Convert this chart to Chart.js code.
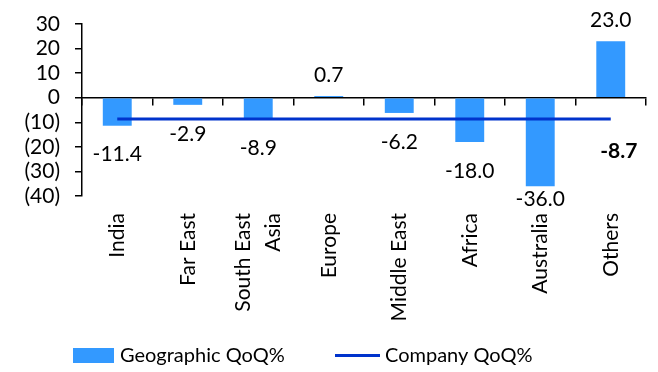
<!DOCTYPE html>
<html>
<head>
<meta charset="utf-8">
<script src="https://cdn.jsdelivr.net/npm/chart.js@4/dist/chart.umd.min.js"></script>
<style>
  html, body { margin: 0; padding: 0; background: #fff; }
  #wrap { width: 658px; height: 372px; }
</style>
</head>
<body>
<div id="wrap"><canvas id="c"></canvas></div>
<script>
// Regional revenue growth, quarter on quarter (%)
const categories = ['India', 'Far East', ['South East', 'Asia'], 'Europe', 'Middle East', 'Africa', 'Australia', 'Others'];
const geographicQoQ = [-11.4, -2.9, -8.9, 0.7, -6.2, -18.0, -36.0, 23.0];
const companyQoQ = [-8.7, -8.7, -8.7, -8.7, -8.7, -8.7, -8.7, -8.7];
const yTicks = [30, 20, 10, 0, -10, -20, -30, -40];

const BAR_COLOR = '#3399FF';
const LINE_COLOR = '#0033CC';
const FONT = "Lato, 'Open Sans', sans-serif";
const PAD = { left: 0, top: 24, right: 12, bottom: 0 };
const PLOT_BOTTOM = 196;

Chart.defaults.font.family = FONT;
Chart.defaults.font.size = 21;
Chart.defaults.color = '#000';

// Value labels: under negative bars, over positive ones; company figure at the line's end
const valueLabels = {
  id: 'valueLabels',
  afterDatasetsDraw(chart) {
    const ctx = chart.ctx;
    const area = chart.chartArea;
    ctx.save();
    ctx.fillStyle = '#000';
    ctx.textAlign = 'center';
    ctx.textBaseline = 'middle';
    ctx.font = '21px ' + FONT;
    chart.getDatasetMeta(0).data.forEach((bar, i) => {
      const v = geographicQoQ[i];
      const y = v < 0 ? Math.min(bar.y + 29, area.bottom + 3) : bar.y - 21;
      ctx.fillText(v.toFixed(1), bar.x, y);
    });
    const pts = chart.getDatasetMeta(1).data;
    const last = pts[pts.length - 1];
    ctx.font = 'bold 21px ' + FONT;
    ctx.fillText(companyQoQ[companyQoQ.length - 1].toFixed(1), last.x + 8, last.y + 32);
    ctx.restore();
  }
};

// Centre wrapped category labels on their tick
const centreWrappedLabels = {
  id: 'centreWrappedLabels',
  beforeDraw(chart) {
    const s = chart.scales.x;
    s.getLabelItems().forEach(item => {
      if (Array.isArray(item.label) && !item._centred) {
        item.textOffset -= (item.label.length - 1) * item.font.lineHeight / 2;
        item._centred = true;
      }
    });
  }
};

// Legend row under the axis labels
const bottomLegend = {
  id: 'bottomLegend',
  afterDraw(chart) {
    const ctx = chart.ctx;
    const [bars, line] = chart.data.datasets;
    ctx.save();
    ctx.font = '20px ' + FONT;
    ctx.textAlign = 'left';
    ctx.textBaseline = 'middle';
    ctx.fillStyle = bars.backgroundColor;
    ctx.fillRect(73, 348, 41, 15);
    ctx.fillStyle = '#000';
    ctx.fillText(bars.label, 120, 356);
    ctx.strokeStyle = line.borderColor;
    ctx.lineWidth = line.borderWidth;
    ctx.beginPath();
    ctx.moveTo(335, 355.5);
    ctx.lineTo(380, 355.5);
    ctx.stroke();
    ctx.fillText(line.label, 385, 356);
    ctx.restore();
  }
};

new Chart(document.getElementById('c'), {
  type: 'bar',
  data: {
    labels: categories,
    datasets: [
      {
        type: 'bar',
        label: 'Geographic QoQ%',
        data: geographicQoQ,
        backgroundColor: BAR_COLOR,
        borderWidth: 0,
        barPercentage: 0.41,
        categoryPercentage: 1,
        order: 2
      },
      {
        type: 'line',
        label: 'Company QoQ%',
        data: companyQoQ,
        borderColor: LINE_COLOR,
        backgroundColor: LINE_COLOR,
        borderWidth: 3,
        pointRadius: 0,
        tension: 0,
        order: 1
      }
    ]
  },
  options: {
    responsive: true,
    maintainAspectRatio: false,
    animation: false,
    layout: { padding: PAD },
    plugins: {
      tooltip: { enabled: false },
      legend: { display: false }
    },
    scales: {
      x: {
        type: 'category',
        position: 'bottom',
        offset: true,
        grid: { display: false, drawTicks: false },
        border: { display: false },
        ticks: {
          autoSkip: false,
          minRotation: 90,
          maxRotation: 90,
          padding: 17,
          color: '#000',
          font: { size: 21, lineHeight: 1.4 }
        },
        afterFit(s) {
          s.height = s.chart.height - PAD.bottom - PLOT_BOTTOM;
        }
      },
      x0: {
        type: 'category',
        position: { y: 0 },
        offset: true,
        grid: { offset: true, drawOnChartArea: false, drawTicks: true, tickLength: 7, color: '#000', lineWidth: 1.5 },
        border: { display: true, color: '#000', width: 1.5 },
        ticks: { display: false }
      },
      y: {
        min: -40,
        max: 30,
        afterBuildTicks(s) {
          s.ticks = yTicks.map(v => ({ value: v }));
        },
        ticks: {
          autoSkip: false,
          padding: 15,
          color: '#000',
          font: { size: 21 },
          callback: v => (v < 0 ? '(' + (-v) + ')' : String(v))
        },
        grid: { drawOnChartArea: false, drawTicks: true, tickLength: 7, color: '#000', lineWidth: 1.5 },
        border: { display: true, color: '#000', width: 1.5 },
        afterFit(s) {
          s.width = 82 - PAD.left;
          s.paddingTop = 0;
          s.paddingBottom = 0;
        }
      }
    }
  },
  plugins: [valueLabels, centreWrappedLabels, bottomLegend]
});
</script>
</body>
</html>
